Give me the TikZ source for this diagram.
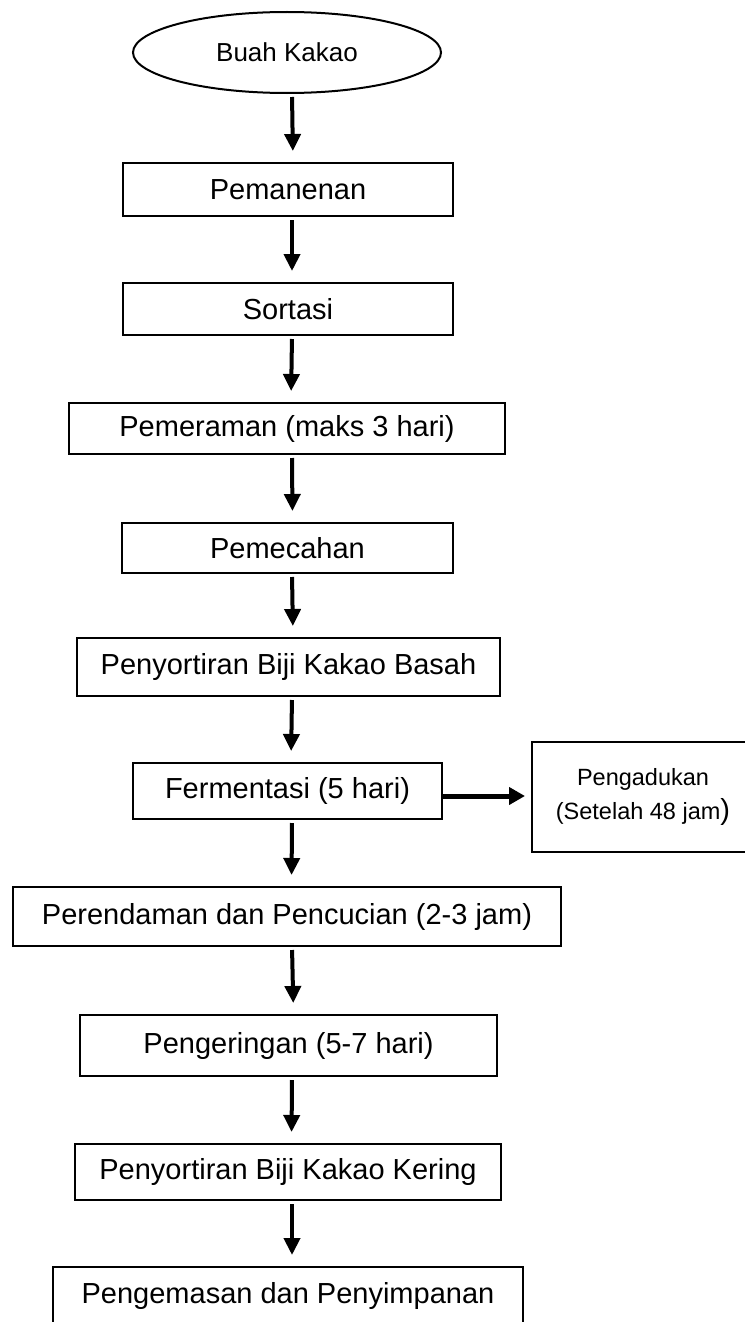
\documentclass[tikz,border=0pt]{standalone}
\usepackage{fontspec}
\setmainfont{Liberation Sans}
\usetikzlibrary{shapes.geometric, positioning, arrows.meta}

\begin{document}
\begin{tikzpicture}[x=1pt, y=-1pt,
        step box/.style={
                draw,
                rectangle,
                line width=2pt,
                inner sep=0pt,
                font=\fontsize{29}{34}\selectfont,
        },
        start/.style={
                draw,
                ellipse,
                line width=2pt,
                inner sep=0pt,
                font=\fontsize{26}{30}\selectfont,
        },
        flow/.style={
                line width=4pt,
                -{Triangle[length=17pt, width=16pt]},
                shorten <=3pt,
                shorten >=11pt,
        },
        sideflow/.style={
                line width=5pt,
                -{Triangle[length=16pt, width=17pt]},
                shorten >=6pt,
        }]
            \useasboundingbox (0, 0) rectangle (744, 1322);
            \node[start, minimum width=308pt, minimum height=81pt] (buah) at (287, 52.5) {Buah Kakao};
            \node[step box, minimum width=330pt, minimum height=53pt] (panen) at (288, 189.5) {Pemanenan};
            \node[step box, minimum width=330pt, minimum height=52pt] (sortasi) at (288, 309) {Sortasi};
            \node[step box, minimum width=436pt, minimum height=51pt] (peram) at (287, 428.5) {Pemeraman (maks 3 hari)};
            \node[step box, minimum width=331pt, minimum height=50pt] (pecah) at (287.5, 548) {Pemecahan};
            \node[step box, minimum width=423pt, minimum height=58pt] (basah) at (288.5, 667) {Penyortiran Biji Kakao Basah};
            \node[step box, minimum width=309pt, minimum height=56pt] (ferm) at (287.5, 791) {Fermentasi (5 hari)};
            \node[step box, minimum width=222pt, minimum height=110pt, align=center] (aduk) at (643, 797)
                {{\fontsize{23.5}{37}\selectfont Pengadukan}\\{\fontsize{23.5}{37}\selectfont (Setelah 48 jam}{\fontsize{29}{37}\selectfont )}};
            \node[step box, minimum width=548pt, minimum height=59pt] (rendam) at (287, 916.5) {Perendaman dan Pencucian (2-3 jam)};
            \node[step box, minimum width=417pt, minimum height=61pt] (kering) at (288.5, 1045.5) {Pengeringan (5-7 hari)};
            \node[step box, minimum width=426pt, minimum height=56pt] (sortkering) at (288, 1172) {Penyortiran Biji Kakao Kering};
            \node[step box, minimum width=470pt, minimum height=58pt] (kemas) at (288, 1296) {Pengemasan dan Penyimpanan};

            \draw[flow] ([xshift=5pt]buah.south) -- ([xshift=5pt]panen.north);
            \draw[flow] ([xshift=4pt]panen.south) -- ([xshift=4pt]sortasi.north);
            \draw[flow] ([xshift=4pt]sortasi.south) -- ([xshift=4pt]peram.north);
            \draw[flow] ([xshift=5pt]peram.south) -- ([xshift=5pt]pecah.north);
            \draw[flow] ([xshift=4.5pt]pecah.south) -- ([xshift=4.5pt]basah.north);
            \draw[flow] ([xshift=3.5pt]basah.south) -- ([xshift=3.5pt]ferm.north);
            \draw[flow] ([xshift=4.5pt]ferm.south) -- ([xshift=4.5pt]rendam.north);
            \draw[flow] ([xshift=5pt]rendam.south) -- ([xshift=5pt]kering.north);
            \draw[flow] ([xshift=3.5pt]kering.south) -- ([xshift=3.5pt]sortkering.north);
            \draw[flow] ([xshift=4pt]sortkering.south) -- ([xshift=4pt]kemas.north);
            \draw[sideflow] ([yshift=-5pt]ferm.east) -- ([yshift=-5pt]ferm.east -| aduk.west);
        \end{tikzpicture}
\end{document}
